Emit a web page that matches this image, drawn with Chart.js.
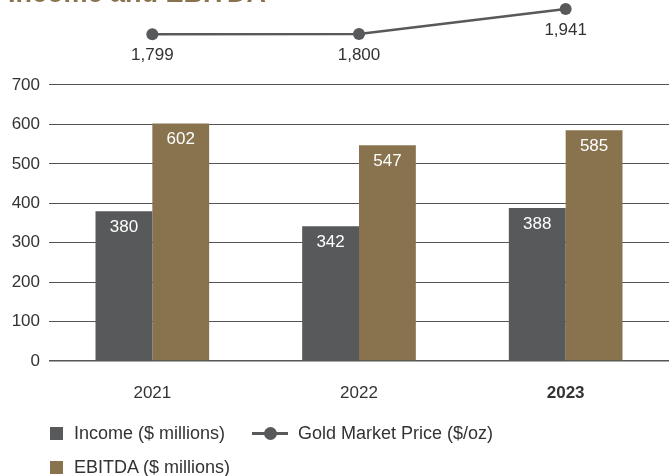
<!DOCTYPE html>
<html>
<head>
<meta charset="utf-8">
<script src="https://cdn.jsdelivr.net/npm/chart.js@4.4.1/dist/chart.umd.min.js"></script>
<style>
  body { margin: 0; background: #fff; }
  #wrap { position: relative; width: 669px; height: 476px; overflow: hidden; }
  #legend {
    position: absolute; left: 50px; top: 423px; width: 470px;
    display: flex; flex-wrap: wrap; column-gap: 27px; row-gap: 13px;
    font-family: 'Liberation Sans', Arial, sans-serif; font-size: 18px; color: #333;
  }
  .item { display: flex; align-items: center; height: 21px; }
  .box { width: 13px; height: 13px; margin-right: 11px; }
  .line { position: relative; width: 36px; height: 13px; margin-right: 10px; }
  .line::before { content: ''; position: absolute; left: 0; right: 0; top: 5px; height: 3px; background: var(--c); }
  .line::after { content: ''; position: absolute; left: 12px; top: 0; width: 13px; height: 13px; border-radius: 50%; background: var(--c); }
</style>
</head>
<body>
<div id="wrap">
  <canvas id="chart"></canvas>
  <div id="legend"></div>
</div>
<script>
const title = 'Income and EBITDA';
const years = ['2021', '2022', '2023'];
const income = [380, 342, 388];
const ebitda = [602, 547, 585];
const goldPrice = [1799, 1800, 1941];
const yTicks = [0, 100, 200, 300, 400, 500, 600, 700];

const GREY = '#58595b';
const GOLD = '#89734e';
const FONT = "'Liberation Sans', Arial, sans-serif";

// title sits mostly above the top edge, only its bottom shows
const titlePlugin = {
    id: 'cutTitle',
    afterDraw(chart) {
        const ctx = chart.ctx;
        ctx.save();
        ctx.font = `bold 27px ${FONT}`;
        ctx.fillStyle = GOLD;
        ctx.textBaseline = 'alphabetic';
        ctx.textAlign = 'left';
        ctx.fillText(title, 8, 2);
        ctx.restore();
    }
};

const valueLabels = {
    id: 'valueLabels',
    afterDatasetsDraw(chart) {
        const ctx = chart.ctx;
        ctx.save();
        ctx.textAlign = 'center';
        ctx.textBaseline = 'middle';
        ctx.font = `17px ${FONT}`;
        chart.data.datasets.forEach((ds, i) => {
            const meta = chart.getDatasetMeta(i);
            meta.data.forEach((el, j) => {
                const v = ds.data[j];
                if (ds.type === 'line') {
                    ctx.fillStyle = '#333';
                    ctx.fillText(v.toLocaleString('en-US'), el.x, el.y + 21);
                } else {
                    ctx.fillStyle = '#fff';
                    ctx.fillText(String(v), el.x, el.y + 16);
                }
            });
        });
        ctx.restore();
    }
};

const chart = new Chart(document.getElementById('chart'), {
    type: 'bar',
    data: {
        labels: years,
        datasets: [
            {
                label: 'Income ($ millions)',
                data: income,
                backgroundColor: GREY,
                barPercentage: 1,
                categoryPercentage: 0.55,
                yAxisID: 'y'
            },
            {
                label: 'Gold Market Price ($/oz)',
                type: 'line',
                data: goldPrice,
                borderColor: GREY,
                backgroundColor: GREY,
                borderWidth: 2.5,
                pointRadius: 6,
                pointBackgroundColor: GREY,
                pointBorderWidth: 0,
                clip: false,
                yAxisID: 'y2'
            },
            {
                label: 'EBITDA ($ millions)',
                data: ebitda,
                backgroundColor: GOLD,
                barPercentage: 1,
                categoryPercentage: 0.55,
                yAxisID: 'y'
            }
        ]
    },
    options: {
        responsive: true,
        maintainAspectRatio: false,
        animation: false,
        layout: { autoPadding: false, padding: { top: 0, right: 0, bottom: 75, left: 0 } },
        scales: {
            x: {
                grid: { display: false, drawTicks: false },
                border: { display: false },
                ticks: {
                    color: '#333',
                    padding: 22,
                    font: (c) => ({ family: FONT, size: 17, weight: c.index === 2 ? 'bold' : 'normal' })
                },
                afterFit: (s) => {
                    s.height = 40;
                    s.paddingLeft = 0;
                    s.paddingRight = 0;
                }
            },
            y: {
                min: 0,
                max: 915.5,
                ticks: {
                    stepSize: 100,
                    color: '#333',
                    padding: 9,
                    font: { family: FONT, size: 17 }
                },
                afterBuildTicks: (s) => {
                    s.ticks = yTicks.map(v => ({ value: v }));
                },
                grid: {
                    color: '#555',
                    lineWidth: (c) => c.tick && c.tick.value === 0 ? 1.5 : 1,
                    drawTicks: false
                },
                border: { display: false },
                afterFit: (s) => {
                    s.width = 49;
                    s.paddingTop = 0;
                    s.paddingBottom = 0;
                }
            },
            y2: {
                display: false,
                min: -44,
                max: 1992
            }
        },
        plugins: {
            legend: { display: false },
            tooltip: { enabled: false }
        }
    },
    plugins: [titlePlugin, valueLabels]
});

// html legend, wraps after the second item like the original
const legendEl = document.getElementById('legend');
chart.data.datasets.forEach(ds => {
    const item = document.createElement('div');
    item.className = 'item';
    const mark = document.createElement('span');
    if (ds.type === 'line') {
        mark.className = 'line';
        mark.style.setProperty('--c', ds.borderColor);
    } else {
        mark.className = 'box';
        mark.style.background = ds.backgroundColor;
    }
    const text = document.createElement('span');
    text.textContent = ds.label;
    item.appendChild(mark);
    item.appendChild(text);
    legendEl.appendChild(item);
});
</script>
</body>
</html>
